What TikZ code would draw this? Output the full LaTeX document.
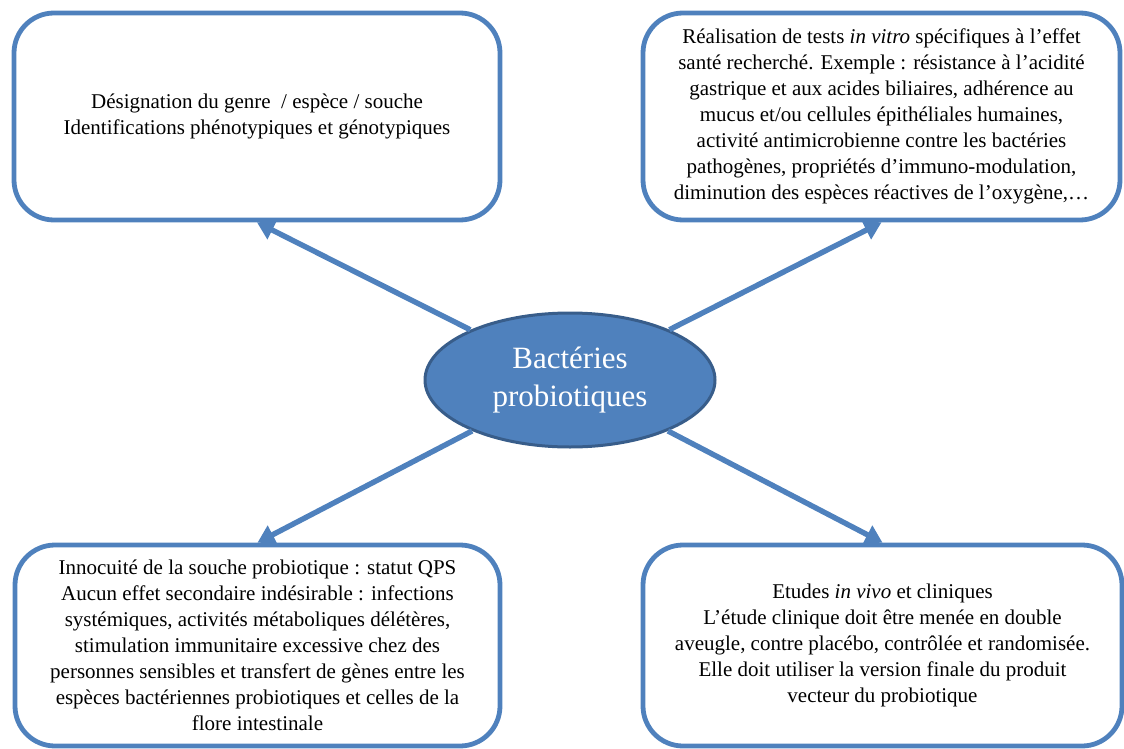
\documentclass[tikz,border=0pt]{standalone}
\usepackage{fontspec}
\setmainfont{Liberation Serif}
\usetikzlibrary{arrows.meta,shapes.geometric}
\definecolor{boxblue}{RGB}{79,129,189}
\definecolor{ellborder}{RGB}{56,93,138}
\begin{document}
\begin{tikzpicture}[x=0.5pt,y=-0.5pt,
    bloc/.style={draw=boxblue, line width=2.4pt, rounded corners=20pt, align=center,
      inner sep=0pt, font=\fontsize{10.5}{13}\selectfont},
    centre/.style={ellipse, draw=ellborder, line width=1.5pt, fill=boxblue, text=white,
      align=center, inner sep=0pt, minimum width=145pt, minimum height=67pt,
      font=\fontsize{15.5}{19}\selectfont},
    fleche/.style={draw=boxblue, line width=2.7pt, -{Triangle[length=8.5pt,width=10pt]}}]
  \useasboundingbox (0,0) rectangle (1124,749);
  % les quatre cadres
  \node[bloc, minimum width=243pt, minimum height=103.5pt] (genre) at (257,116.5)
    {Désignation du genre ~/ espèce / souche\\Identifications phénotypiques et génotypiques};
  \node[bloc, minimum width=238.5pt, minimum height=103.5pt] (vitro) at (881.5,116.5)
    {Réalisation de tests \textit{in vitro} spécifiques à l’effet\\
     santé recherché. Exemple : résistance à l’acidité\\
     gastrique et aux acides biliaires, adhérence au\\
     mucus et/ou cellules épithéliales humaines,\\
     activité antimicrobienne contre les bactéries\\
     pathogènes, propriétés d’immuno-modulation,\\
     diminution des espèces réactives de l’oxygène,…};
  \node[bloc, minimum width=242.5pt, minimum height=100.5pt] (securite) at (257.5,645.5)
    {Innocuité de la souche probiotique : statut QPS\\
     Aucun effet secondaire indésirable : infections\\
     systémiques, activités métaboliques délétères,\\
     stimulation immunitaire excessive chez des\\
     personnes sensibles et transfert de gènes entre les\\
     espèces bactériennes probiotiques et celles de la\\
     flore intestinale};
  \node[bloc, minimum width=239.5pt, minimum height=100.5pt] (vivo) at (882.5,645.5)
    {Etudes \textit{in vivo} et cliniques\\
     L’étude clinique doit être menée en double\\
     aveugle, contre placébo, contrôlée et randomisée.\\
     Elle doit utiliser la version finale du produit\\
     vecteur du probiotique};
  % le centre
  \node[centre] (bacteries) at (570,380) {Bactéries\\probiotiques};
  % les fleches
  \draw[fleche] (bacteries) -- (genre.south);
  \draw[fleche] (bacteries) -- (vitro.south);
  \draw[fleche] (bacteries) -- (securite.north);
  \draw[fleche] (bacteries) -- (vivo.north);
\end{tikzpicture}
\end{document}
